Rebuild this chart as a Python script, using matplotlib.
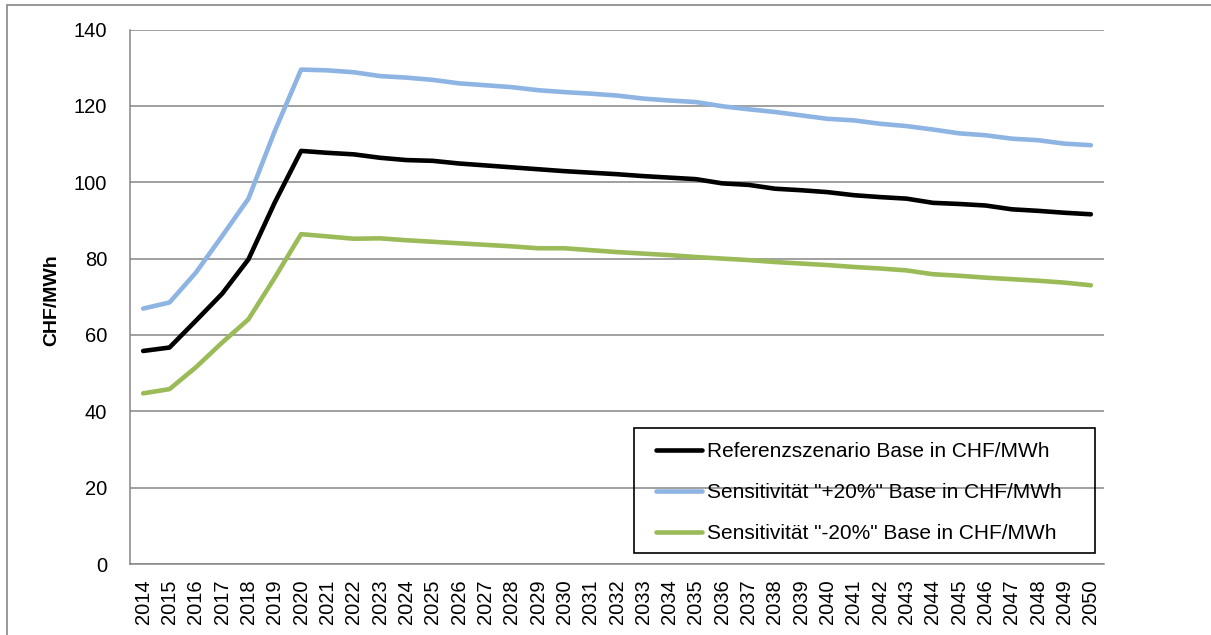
import matplotlib
matplotlib.use("Agg")
import matplotlib.pyplot as plt
from matplotlib.patches import Rectangle

plt.rcParams['font.family'] = ['Liberation Sans', 'DejaVu Sans']

years = list(range(2014, 2051))

referenz = [55.8, 56.7, 63.7, 70.8, 79.8, 94.7, 108.2, 107.7, 107.3, 106.4,
            105.8, 105.6, 104.9, 104.4, 103.9, 103.4, 102.9, 102.5, 102.1, 101.6,
            101.2, 100.8, 99.7, 99.3, 98.3, 97.9, 97.4, 96.6, 96.1, 95.7,
            94.6, 94.3, 93.9, 92.9, 92.5, 92.0, 91.6]

plus20 = [66.9, 68.5, 76.3, 85.9, 95.7, 113.4, 129.5, 129.3, 128.8, 127.8,
          127.4, 126.8, 125.9, 125.4, 124.9, 124.1, 123.6, 123.2, 122.7, 121.9,
          121.4, 121.0, 119.9, 119.1, 118.4, 117.5, 116.6, 116.2, 115.3, 114.7,
          113.8, 112.8, 112.3, 111.4, 111.0, 110.1, 109.7]

minus20 = [44.7, 45.8, 51.5, 58.0, 64.1, 75.0, 86.4, 85.8, 85.2, 85.3,
           84.8, 84.4, 84.0, 83.6, 83.2, 82.7, 82.7, 82.2, 81.7, 81.3,
           80.9, 80.4, 80.0, 79.6, 79.1, 78.7, 78.3, 77.8, 77.4, 76.9,
           75.9, 75.5, 75.0, 74.6, 74.2, 73.7, 73.0]

labels = ['Referenzszenario Base in CHF/MWh',
          'Sensitivität "+20%" Base in CHF/MWh',
          'Sensitivität "-20%" Base in CHF/MWh']
colors = ['#000000', '#8EB4E3', '#9BBB59']

W, H = 1211, 635
fig = plt.figure(figsize=(W / 100, H / 100), dpi=100)
ax = fig.add_axes([130 / W, 1 - 564 / H, 974 / W, 534.5 / H])

for vals, lab, col in zip([referenz, plus20, minus20], labels, colors):
    ax.plot(years, vals, color=col, lw=3.3, label=lab, solid_joinstyle='round',
            solid_capstyle='round')

grid_col = '#868686'
ax.set_xlim(2013.5, 2050.5)
ax.set_ylim(0, 140)
ax.set_yticks(range(0, 141, 20))
ax.set_xticks(years)
ax.set_xticklabels([str(y) for y in years], rotation=90)
ax.yaxis.grid(True, color=grid_col, lw=1.1)
ax.set_axisbelow(True)
for s in ['top', 'right']:
    ax.spines[s].set_visible(False)
for s in ['left', 'bottom']:
    ax.spines[s].set_color(grid_col)
    ax.spines[s].set_linewidth(1.1)
ax.tick_params(axis='both', length=0, labelsize=14.5, colors='#000000')
ax.tick_params(axis='y', pad=16.5)
ax.tick_params(axis='x', pad=11)

fig.text(52 / W, 1 - 300 / H, 'CHF/MWh', rotation=90, ha='center', va='center',
         fontsize=14, fontweight='bold')

# legend frame drawn separately
fig.patches.append(Rectangle((634 / W, 1 - 553 / H), 461 / W, 125 / H,
                             transform=fig.transFigure, fill=False,
                             edgecolor='black', lw=1.2))
ax.legend(loc='upper left', bbox_to_anchor=(656 / W, 1 - 442 / H),
          bbox_transform=fig.transFigure, frameon=False, fontsize=15,
          borderpad=0, borderaxespad=0, handlelength=2.2, handletextpad=0.24,
          labelspacing=1.06)

# outer chart border (left/top only visible)
fig.patches.append(Rectangle((7 / W, -0.5), 2, 1.5 - 5 / H,
                             transform=fig.transFigure, fill=False,
                             edgecolor='#868686', lw=1.2))

fig.savefig('out.png', dpi=100)
